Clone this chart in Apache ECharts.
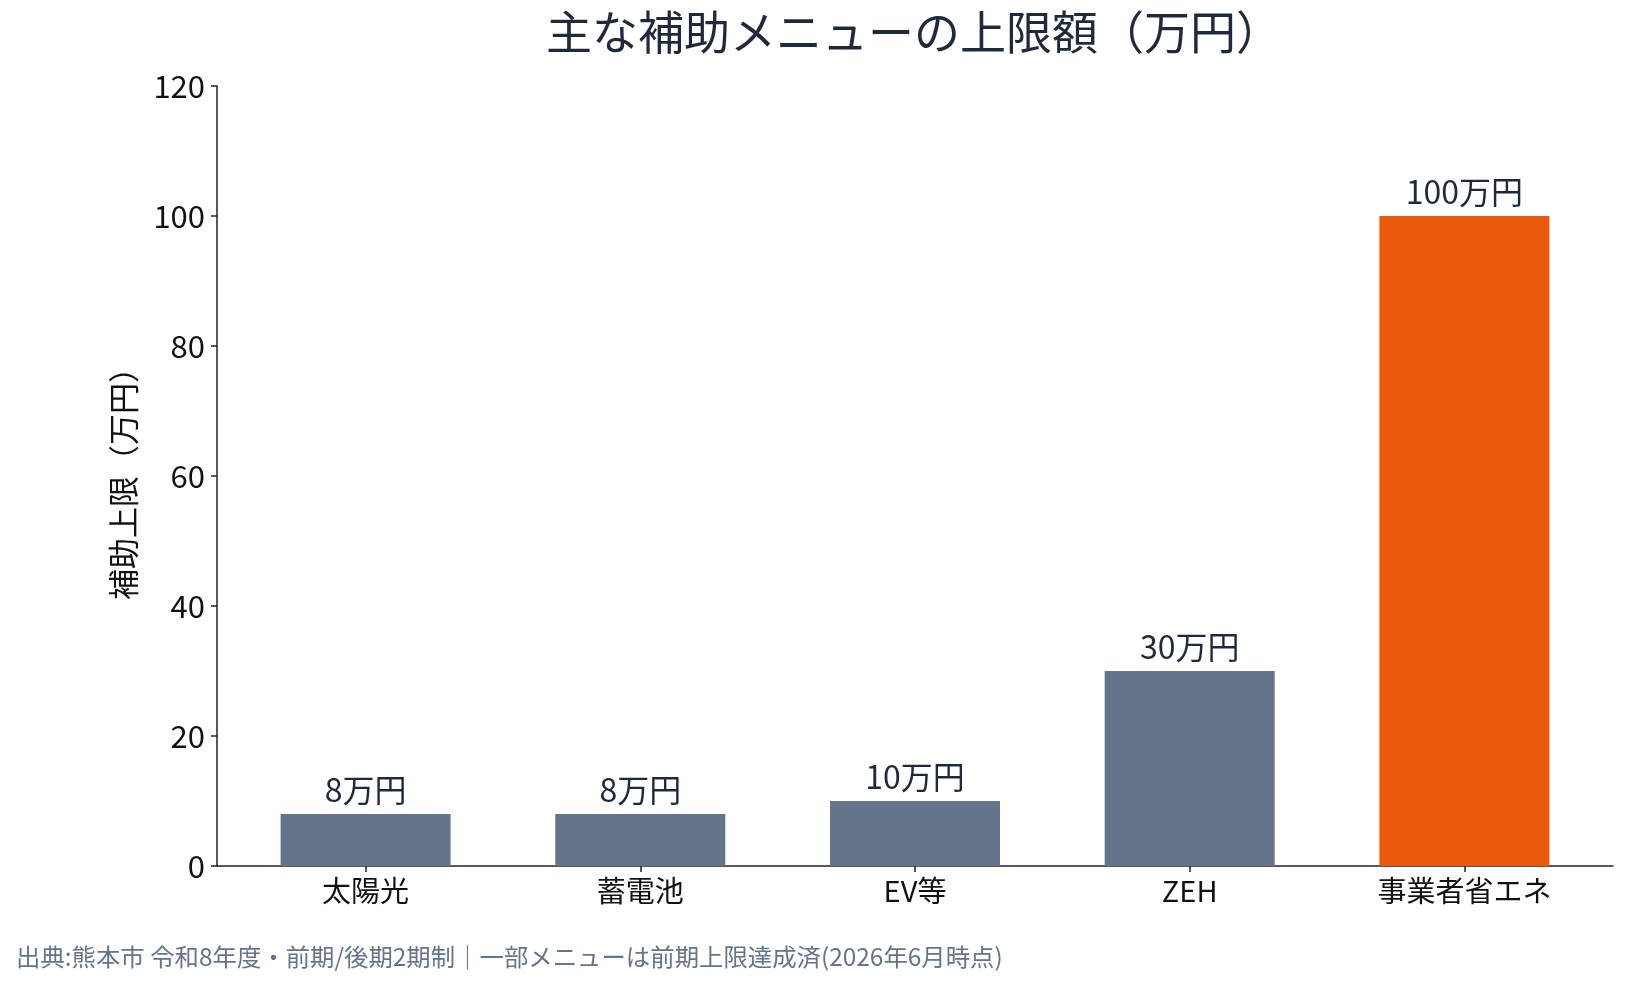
<!DOCTYPE html>
<html>
<head>
<meta charset="utf-8">
<script src="https://cdn.jsdelivr.net/npm/echarts@6/dist/echarts.min.js"></script>
<style>html,body{margin:0;padding:0;background:#fff;}#c{width:1628px;height:985px;}</style>
</head>
<body>
<div id="c"></div>
<script>
const categories = ['太陽光', '蓄電池', 'EV等', 'ZEH', '事業者省エネ'];
const values = [8, 8, 10, 30, 100];
const highlight = [false, false, false, false, true];
const yTicks = [0, 20, 40, 60, 80, 100, 120];
const titleText = '主な補助メニューの上限額（万円）';
const yName = '補助上限（万円）';
const footText = '出典:熊本市 令和8年度・前期/後期2期制｜一部メニューは前期上限達成済(2026年6月時点)';

const FONT = '"Noto Sans CJK JP", "Noto Sans", sans-serif';
const chart = echarts.init(document.getElementById('c'), null, {renderer: 'canvas'});
const positions = categories.map((_, i) => i);
chart.setOption({
  backgroundColor: '#ffffff',
  animation: false,
  textStyle: {fontFamily: FONT},
  title: [{
    text: titleText,
    left: 909, top: 4, textAlign: 'center',
    textStyle: {fontFamily: FONT, fontSize: 46, fontWeight: 'normal', color: '#1e293b'}
  }, {
    text: footText,
    left: 11, top: 940,
    textStyle: {fontFamily: FONT, fontSize: 24.4, fontWeight: 'normal', color: '#64748b'}
  }],
  grid: {left: 217, right: 15, top: 86, bottom: 119, containLabel: false},
  xAxis: {
    type: 'value', min: -0.541, max: 4.541,
    splitLine: {show: false},
    axisLine: {show: true, onZero: false, lineStyle: {color: '#222', width: 1.5}},
    axisTick: {show: true, length: 6, lineStyle: {color: '#222', width: 1.5}, customValues: positions},
    axisLabel: {customValues: positions, formatter: v => categories[Math.round(v)], fontSize: 29, color: '#111', margin: 10, fontFamily: FONT}
  },
  yAxis: {
    type: 'value', min: 0, max: 120, interval: 20,
    name: yName, nameLocation: 'middle', nameGap: 78, nameRotate: 90,
    nameTextStyle: {fontSize: 31, color: '#111', fontFamily: FONT},
    splitLine: {show: false},
    axisLine: {show: true, onZero: false, lineStyle: {color: '#222', width: 1.5}},
    axisTick: {show: true, length: 6, lineStyle: {color: '#222', width: 1.5}},
    axisLabel: {fontSize: 31, color: '#111', margin: 12, fontFamily: FONT, formatter: v => yTicks.includes(v) ? String(v) : ''}
  },
  series: [{
    type: 'bar',
    barWidth: 170,
    data: values.map((v, i) => ({value: [i, v], itemStyle: {color: highlight[i] ? '#ea580c' : '#64748b'}})),
    label: {show: true, position: 'top', distance: 8, formatter: p => p.value[1] + '万円', fontSize: 32, color: '#1e293b', fontFamily: FONT}
  }]
});
</script>
</body>
</html>
